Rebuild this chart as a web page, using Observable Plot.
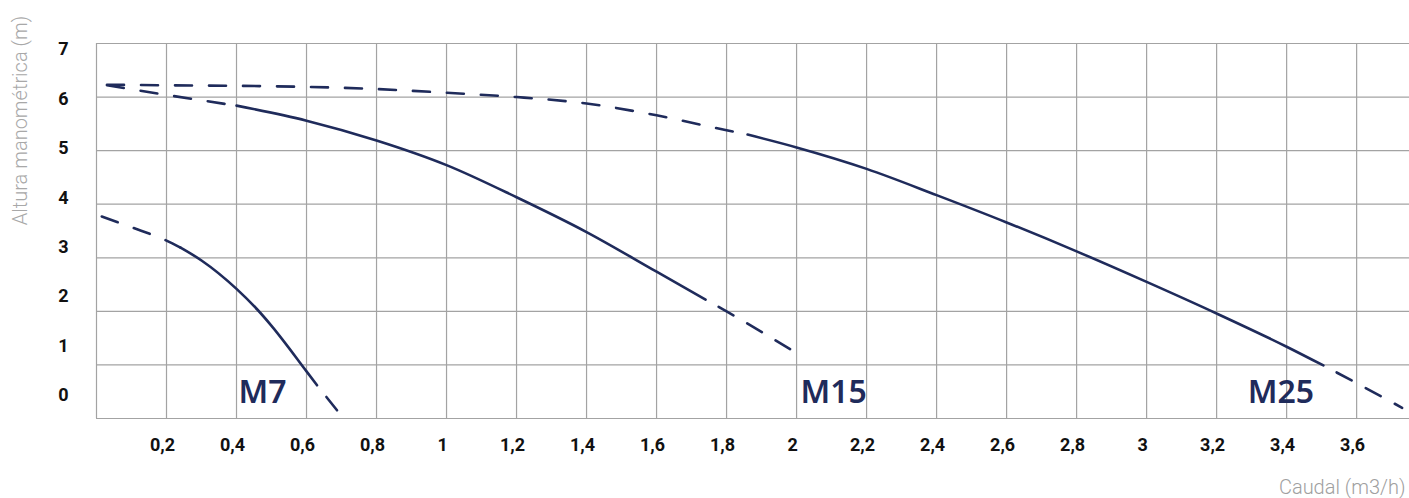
<!DOCTYPE html>
<html>
<head>
<meta charset="utf-8">
<script src="https://cdn.jsdelivr.net/npm/d3@7"></script>
<script src="https://cdn.jsdelivr.net/npm/@observablehq/plot@0.6"></script>
<style>
  html, body { margin: 0; padding: 0; background: #fff; }
  #wrap { position: relative; width: 1409px; height: 498px; }
  #wrap svg { position: absolute; left: 0; top: 0; }
</style>
</head>
<body>
<div id="wrap"></div>
<script>
// ---- Data ----
const xTicks = [0.2, 0.4, 0.6, 0.8, 1, 1.2, 1.4, 1.6, 1.8, 2, 2.2, 2.4, 2.6, 2.8, 3, 3.2, 3.4, 3.6];
const yTicks = [0, 1, 2, 3, 4, 5, 6, 7];
const xTitle = "Caudal (m3/h)";
const yTitle = "Altura manométrica (m)";

// caudal (m3/h), altura (m)
const m7Q = [0.015, 0.1, 0.2, 0.24, 0.3, 0.4, 0.46, 0.5, 0.6, 0.63, 0.69];
const m7H = [3.77, 3.57, 3.32, 3.19, 2.95, 2.42, 2.03, 1.73, 0.88, 0.62, 0.13];
const m7Solid = [0.24, 0.63];

const m15Q = [0.03, 0.2, 0.4, 0.6, 0.8, 1.0, 1.2, 1.4, 1.6, 1.74, 1.8, 2.0];
const m15H = [6.22, 6.04, 5.84, 5.56, 5.19, 4.73, 4.13, 3.48, 2.74, 2.22, 2.0, 1.22];
const m15Solid = [0.4, 1.74];

const m25Q = [0.03, 0.2, 0.4, 0.6, 0.8, 1.0, 1.2, 1.4, 1.6, 1.8, 1.86, 2.0, 2.2, 2.4, 2.6, 2.8, 3.0, 3.2, 3.4, 3.505, 3.6, 3.73];
const m25H = [6.23, 6.22, 6.21, 6.19, 6.15, 6.08, 6.0, 5.88, 5.66, 5.38, 5.3, 5.06, 4.66, 4.17, 3.66, 3.12, 2.55, 1.96, 1.34, 0.99, 0.66, 0.2];
const m25Solid = [1.86, 3.505];

const modelNames = ["M7", "M15", "M25"];
const labelQ = [0.406, 2.011, 3.289];
const labelH = [0.49, 0.49, 0.49];

// ---- Build tables ----
const curves = [
  {name: "M7", q: m7Q, h: m7H, solid: m7Solid},
  {name: "M15", q: m15Q, h: m15H, solid: m15Solid},
  {name: "M25", q: m25Q, h: m25H, solid: m25Solid}
];
const solidPts = [], headPts = [], tailPts = [];
for (const c of curves) {
  const pts = c.q.map((q, i) => ({name: c.name, q, h: c.h[i]}));
  pts.filter(p => p.q <= c.solid[0]).forEach(p => headPts.push(p));
  pts.filter(p => p.q >= c.solid[1]).forEach(p => tailPts.push(p));
  pts.filter(p => p.q >= c.solid[0] && p.q <= c.solid[1]).forEach(p => solidPts.push(p));
}
const labels = modelNames.map((n, i) => ({name: n, q: labelQ[i], h: labelH[i]}));

const navy = "#1f2b5b";
const gridColor = "#a3a3a3";
const fmt = d => String(d).replace(".", ",");
const lineOpts = {x: "q", y: "h", z: "name", curve: "monotone-x", stroke: navy, strokeWidth: 2.6};

const main = Plot.plot({
  width: 1409,
  height: 498,
  marginLeft: 96,
  marginRight: 0,
  marginTop: 43,
  marginBottom: 80,
  style: {fontFamily: "Roboto, sans-serif", background: "transparent"},
  x: {domain: [0, 3.751], axis: null},
  y: {domain: [0, 7], axis: null},
  marks: [
    Plot.gridY(yTicks, {stroke: gridColor, strokeOpacity: 1, strokeWidth: 1.2}),
    Plot.gridX(xTicks, {stroke: gridColor, strokeOpacity: 1, strokeWidth: 1.2}),
    Plot.ruleX([0], {stroke: gridColor, strokeWidth: 1.2}),
    Plot.axisX(xTicks, {
      tickSize: 0, tickPadding: 20, tickFormat: fmt, dx: -4,
      fontSize: 18, fontWeight: "bold", fill: "#111", label: null
    }),
    Plot.line(headPts, {...lineOpts, strokeDasharray: "17 17"}),
    Plot.line(tailPts, {...lineOpts, strokeDasharray: "17 16", strokeDashoffset: 18}),
    Plot.line(solidPts, lineOpts),
    Plot.text(labels, {x: "q", y: "h", text: "name", textAnchor: "start", lineAnchor: "middle",
      fill: navy, fontSize: 32, fontWeight: 600, fontFamily: "'Noto Sans', sans-serif"}),
    Plot.text([xTitle], {frameAnchor: "bottom-right", textAnchor: "end", lineAnchor: "middle",
      dx: -4, dy: 69, fill: "#a0a0a0", fontSize: 20, fontWeight: 300}),
    Plot.text([yTitle], {frameAnchor: "top-left", textAnchor: "middle", lineAnchor: "middle",
      rotate: -90, dx: -76, dy: 77, fill: "#a8a8a8", fontSize: 20, fontWeight: 300})
  ]
});

// y tick labels (positioned by their own scale, as in the reference)
const yAxisPlot = Plot.plot({
  width: 96,
  height: 498,
  marginLeft: 68,
  marginRight: 0,
  marginTop: 49,
  marginBottom: 103,
  style: {fontFamily: "Roboto, sans-serif", background: "transparent", overflow: "visible"},
  y: {domain: [0, 7]},
  marks: [
    Plot.axisY(yTicks, {anchor: "left", tickSize: 0, tickPadding: 0, fontSize: 18, fontWeight: "bold", fill: "#111", label: null})
  ]
});

const wrap = document.getElementById("wrap");
wrap.appendChild(main);
wrap.appendChild(yAxisPlot);
</script>
</body>
</html>
